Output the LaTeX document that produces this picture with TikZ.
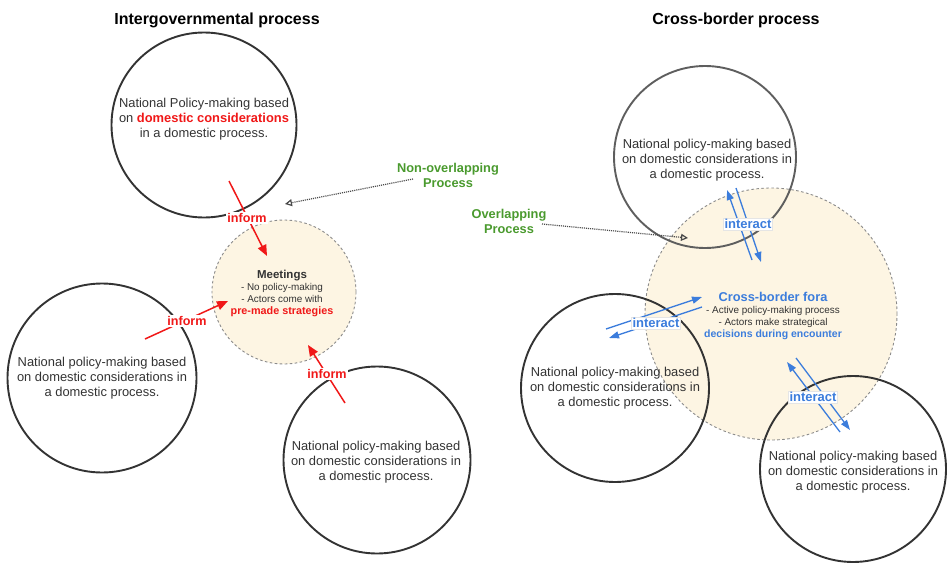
\documentclass[tikz,border=0pt]{standalone}
\usepackage{fontspec}
\setmainfont{Liberation Sans}
\usetikzlibrary{arrows.meta}
\definecolor{ink}{HTML}{333333}
\definecolor{greyc}{HTML}{5E5E5E}
\definecolor{redc}{HTML}{F01818}
\definecolor{bluec}{HTML}{3C7DDC}
\definecolor{greenc}{HTML}{4A9A2E}
\definecolor{cream}{HTML}{FDF5E3}
\definecolor{dashc}{HTML}{8A8A8A}
\definecolor{dotc}{HTML}{4A4A4A}
\begin{document}
\begin{tikzpicture}[x=1pt,y=-1pt,
  natcirc/.style={circle,draw=ink,line width=1.9pt,minimum size=#1,inner sep=0pt},
  forum/.style={circle,draw=dashc,dash pattern=on 2.6pt off 2.4pt,line width=0.9pt,fill=cream,minimum size=#1,inner sep=0pt},
  bodytext/.style={align=center,font=\fontsize{12.9}{15.2}\selectfont,text=ink,inner sep=0pt},
  smalltext/.style={align=center,font=\fontsize{9.9}{12.2}\selectfont,text=ink,inner sep=0pt},
  titletext/.style={font=\fontsize{16}{18}\selectfont\bfseries,text=black,inner sep=0pt},
  greentext/.style={align=center,font=\fontsize{12.8}{15}\selectfont\bfseries,text=greenc,inner sep=0pt},
  redarrow/.style={draw=redc,line width=1.5pt,-{Triangle[length=11pt,width=9pt]}},
  bluearrow/.style={draw=bluec,line width=1.3pt,-{Triangle[length=10pt,width=7pt]}},
  dotarrow/.style={draw=dotc,line width=1.2pt,dash pattern=on 1.1pt off 1pt,-{Triangle[open,length=7pt,width=7pt,line width=1.2pt]}},
  informlbl/.style={fill=white,inner sep=1.2pt,text=redc,font=\fontsize{12.6}{14}\selectfont\bfseries},
  interactlbl/.style={fill=white,draw=black!10,line width=0.4pt,inner sep=1.2pt,text=bluec,font=\fontsize{13}{14}\selectfont\bfseries}
]
\useasboundingbox (0,0) rectangle (947,562);

% titles
\node[titletext] (t1) at (217,20) {Intergovernmental process};
\node[titletext] (t2) at (736,20) {Cross-border process};

% forums
\node[forum=144pt] (mt) at (284,292) {};
\node[forum=252pt] (fo) at (771,314) {};

% national circles
\node[natcirc=185pt] (tl) at (204,125) {};
\node[natcirc=189pt] (lb) at (102,378) {};
\node[natcirc=187pt] (bm) at (377,460) {};
\node[natcirc=182pt,draw=greyc] (tr) at (705,157) {};
\node[natcirc=188pt] (lr) at (615,388) {};
\node[natcirc=186pt] (br) at (853,469) {};

% circle texts
\node[bodytext] (tlt) at (204,119) {National Policy-making based\\on \textcolor{redc}{\bfseries domestic considerations}\\in a domestic process.};
\node[bodytext] (lbt) at (102,378) {National policy-making based\\on domestic considerations in\\a domestic process.};
\node[bodytext] (bmt) at (376,462) {National policy-making based\\on domestic considerations in\\a domestic process.};
\node[bodytext] (trt) at (707,160) {National policy-making based\\on domestic considerations in\\a domestic process.};
\node[bodytext] (lrt) at (615,388) {National policy-making based\\on domestic considerations in\\a domestic process.};
\node[bodytext] (brt) at (853,472) {National policy-making based\\on domestic considerations in\\a domestic process.};

% forum texts
\node[smalltext] (mtt) at (282,293.5) {{\fontsize{11.5}{12.2}\selectfont\bfseries Meetings}\\- No policy-making\\- Actors come with\\{\fontsize{10.8}{12.2}\selectfont\bfseries\color{redc}pre-made strategies}};
\node[smalltext] (fot) at (773,316) {{\fontsize{12.8}{12.5}\selectfont\bfseries\color{bluec}Cross-border fora}\\- Active policy-making process\\- Actors make strategical\\{\fontsize{10.5}{12.5}\selectfont\bfseries\color{bluec}decisions during encounter}};

% green labels
\node[greentext] (nonov) at (448,175) {Non-overlapping\\Process};
\node[greentext] (ov) at (509,221) {Overlapping\\Process};

% dotted arrows
\coordinate (d1s) at (413,179);
\coordinate (d1e) at (285,204);
\coordinate (d2s) at (542,224);
\coordinate (d2e) at (688,238);
\draw[dotarrow] (d1s) -- (d1e);
\draw[dotarrow] (d2s) -- (d2e);

% inform arrows
\coordinate (r1s) at (229,181);
\coordinate (r1e) at (267,256);
\coordinate (r2s) at (145,339);
\coordinate (r2e) at (228,301);
\coordinate (r3s) at (345,403);
\coordinate (r3e) at (308,345);
\draw[redarrow] (r1s) -- (r1e);
\draw[redarrow] (r2s) -- (r2e);
\draw[redarrow] (r3s) -- (r3e);
\node[informlbl] (in1) at (247,218) {inform};
\node[informlbl] (in2) at (187,321) {inform};
\node[informlbl] (in3) at (327,374) {inform};

% interact arrows
\coordinate (b1a) at (752,260);
\coordinate (b1b) at (727,190);
\coordinate (b1c) at (736,188);
\coordinate (b1d) at (761,262);
\coordinate (b2a) at (606,329);
\coordinate (b2b) at (702,297);
\coordinate (b2c) at (702,307);
\coordinate (b2d) at (609,338);
\coordinate (b3a) at (840,432);
\coordinate (b3b) at (787,362);
\coordinate (b3c) at (796,358);
\coordinate (b3d) at (850,430);
\draw[bluearrow] (b1a) -- (b1b);
\draw[bluearrow] (b1c) -- (b1d);
\draw[bluearrow] (b2a) -- (b2b);
\draw[bluearrow] (b2c) -- (b2d);
\draw[bluearrow] (b3a) -- (b3b);
\draw[bluearrow] (b3c) -- (b3d);
\node[interactlbl] (ia1) at (748,224) {interact};
\node[interactlbl] (ia2) at (656,323) {interact};
\node[interactlbl] (ia3) at (813,397) {interact};
\end{tikzpicture}
\end{document}
